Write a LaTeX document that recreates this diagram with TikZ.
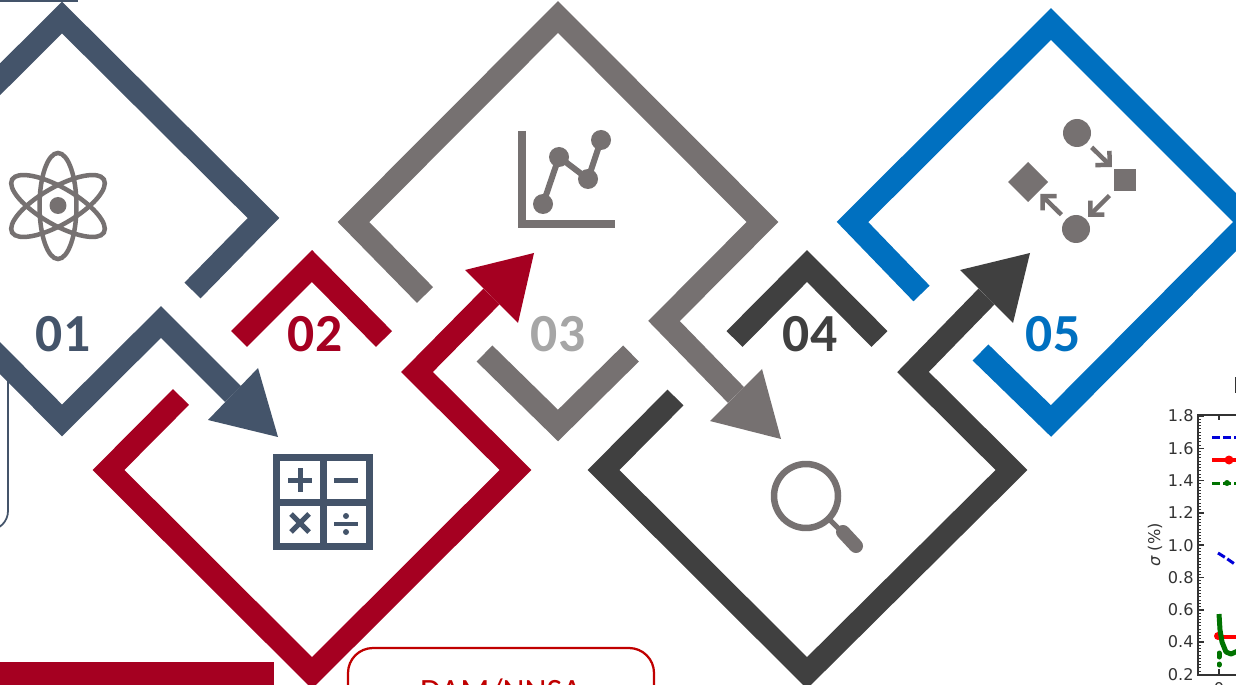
\documentclass[tikz,border=0pt]{standalone}
\usepackage{fontspec}
\setmainfont{Carlito}
\newfontfamily\plotfont{DejaVu Sans}
\usepackage{xcolor}
\usetikzlibrary{arrows.meta,shapes.geometric}
\definecolor{slateblue}{HTML}{44546A}
\definecolor{darkred}{HTML}{A50021}
\definecolor{warmgrey}{HTML}{767171}
\definecolor{coal}{HTML}{404040}
\definecolor{brightblue}{HTML}{0070C0}
\definecolor{lightnum}{HTML}{A6A6A6}
\definecolor{boxred}{HTML}{C00000}
\definecolor{axisgrey}{HTML}{333333}
\tikzset{
	band/.style={line width=0.45cm, line join=miter, line cap=butt},
	stepnum/.style={font=\fontsize{30.5}{31}\selectfont\bfseries},
	ticklabel/.style={font=\plotfont\fontsize{9.2}{10}\selectfont, text=axisgrey, inner sep=0pt},
	flownode/.style={fill=warmgrey, inner sep=0pt, outer sep=0pt},
	flowarrow/.style={warmgrey, line width=0.09cm, -{Straight Barb[length=0.2cm,width=0.4cm,line width=0.09cm]}, shorten <=0.13cm, shorten >=0.06cm},
	plotdash/.style={line width=0.06cm, dash pattern=on 0.16cm off 0.06cm}
}

\begin{document}
\begin{tikzpicture}[x=0.02cm, y=-0.02cm]
	\useasboundingbox (0,0) rectangle (1236,685);
	\clip (0,0) rectangle (1236,685);
	\fill[white] (0,0) rectangle (1236,685);

	% frames cut by the edge of the picture
	\draw[slateblue, line width=0.04cm] (0,1) -- (78,1);
	\draw[slateblue, line width=0.035cm, rounded corners=0.38cm] (-60,360) rectangle (8,530);
	\fill[darkred] (0,662) rectangle (274,700);
	\draw[boxred, line width=0.045cm, rounded corners=0.5cm] (348,648) rectangle (654,760);
	\node[anchor=base, text=boxred, font=\fontsize{19.4}{20}\selectfont] (damlabel) at (501,702) {DAM/NNSA};

	% step 01
	\draw[band, slateblue] (192.5,290.5) -- (263.5,218) -- (62,17.5) -- (-139,218) -- (62,420.5) -- (161,322) -- (233,394);
	\fill[slateblue] (278,437) -- (258,368) -- (208,420) -- cycle;
	\node[stepnum, text=slateblue] (num01) at (63,334) {01};

	% step 02
	\draw[band, darkred] (239,339) -- (312,266) -- (384,339);
	\draw[band, darkred] (181,397) -- (108.5,470) -- (312,673) -- (515.5,470) -- (417,372) -- (491.5,296.5);
	\fill[darkred] (534,253) -- (465,270) -- (518,323) -- cycle;
	\node[stepnum, text=darkred] (num02) at (315,334) {02};

	% step 03
	\draw[band, warmgrey] (425,295) -- (353.5,222) -- (558,17) -- (762.5,222) -- (664,321) -- (736,395);
	\fill[warmgrey] (781,439) -- (762,369) -- (710,421) -- cycle;
	\draw[band, warmgrey] (484.5,353.5) -- (558,425.5) -- (631,353.5);
	\node[stepnum, text=lightnum] (num03) at (558,334) {03};

	% step 04
	\draw[band, coal] (734.5,339) -- (807,266) -- (879.5,339);
	\draw[band, coal] (675.5,397.5) -- (603.5,470) -- (807,673) -- (1011.5,470) -- (913,372) -- (986.5,296.5);
	\fill[coal] (1030,253) -- (960,270) -- (1013,323) -- cycle;
	\node[stepnum, text=coal] (num04) at (810,334) {04};

	% step 05
	\draw[band, brightblue] (921.5,293.5) -- (852.5,222) -- (1051,24) -- (1249,222) -- (1051,421) -- (980.5,352.5);
	\node[stepnum, text=brightblue] (num05) at (1053,334) {05};

	% atom
	\foreach \a in {0,60,120} {
		\draw[warmgrey, line width=0.09cm, rotate around={\a:(58,206)}] (58,206) ellipse [x radius=0.37cm, y radius=1.06cm];
	}
	\fill[warmgrey] (58,205.5) circle [radius=0.17cm];

	% calculator
	\draw[slateblue, line width=0.15cm] (276.5,457.5) rectangle (369.5,546.5);
	\draw[slateblue, line width=0.14cm] (323,457) -- (323,547);
	\draw[slateblue, line width=0.14cm] (276,502) -- (370,502);
	\draw[slateblue, line width=0.1cm] (288,480) -- (312,480);
	\draw[slateblue, line width=0.1cm] (300,468) -- (300,492);
	\draw[slateblue, line width=0.1cm] (334,480) -- (358,480);
	\draw[slateblue, line width=0.1cm] (291,514) -- (309,532);
	\draw[slateblue, line width=0.1cm] (309,514) -- (291,532);
	\draw[slateblue, line width=0.08cm] (334,524) -- (358,524);
	\fill[slateblue] (346,516) circle [radius=0.06cm];
	\fill[slateblue] (346,532) circle [radius=0.06cm];

	% line chart icon
	\draw[warmgrey, line width=0.16cm, line join=miter] (522,131) -- (522,224) -- (615,224);
	\draw[warmgrey, line width=0.12cm] (543,204) -- (559,157) -- (588,179) -- (601,140);
	\foreach \x/\y in {543/204, 559/157, 588/179, 601/140} {
		\fill[warmgrey] (\x,\y) circle [radius=0.2cm];
	}

	% flow icon
	\node[flownode, circle, minimum size=0.56cm] (flowtop) at (1077,133) {};
	\node[flownode, rectangle, minimum size=0.44cm] (flowright) at (1125,180) {};
	\node[flownode, circle, minimum size=0.56cm] (flowbottom) at (1076,229) {};
	\node[flownode, diamond, minimum size=0.8cm] (flowleft) at (1028,182) {};
	\draw[flowarrow] (flowtop) -- (flowright);
	\draw[flowarrow] (flowright) -- (flowbottom);
	\draw[flowarrow] (flowbottom) -- (flowleft);

	% magnifier
	\draw[warmgrey, line width=0.13cm] (806,496) circle [radius=0.64cm];
	\draw[warmgrey, line width=0.1cm] (829,519) -- (842,532);
	\draw[warmgrey, line width=0.28cm, line cap=round] (843,532) -- (856,546);

	% plot
	\draw[axisgrey, line width=0.03cm] (1240,415) -- (1198,415) -- (1198,675) -- (1240,675);
	\foreach \v [count=\i from 0] in {1.8,1.6,1.4,1.2,1.0,0.8,0.6,0.4,0.2} {
		\node[ticklabel, anchor=east] (tick\i) at (1194,{416+32.3*\i}) {\v};
		\draw[axisgrey, line width=0.03cm] (1198,{416+32.3*\i}) -- (1204,{416+32.3*\i});
	}
	\foreach \i in {0,...,80} {
		\draw[axisgrey, line width=0.02cm] (1198,{416+3.23*\i}) -- (1201,{416+3.23*\i});
	}
	\draw[axisgrey, line width=0.03cm] (1219,415) -- (1219,420);
	\draw[axisgrey, line width=0.03cm] (1219,675) -- (1219,669);
	\node[ticklabel] (xzero) at (1219,689) {0};
	\node[ticklabel, rotate=90] (ylabel) at (1155,545) {{\itshape σ} (\%)};
	\draw[axisgrey, line width=0.04cm] (1235.5,377) -- (1235.5,393);
	\draw[blue!85!black, plotdash] (1212,437) -- (1240,437);
	\draw[red, line width=0.07cm] (1212,460) -- (1240,460);
	\fill[red] (1229,460) circle [radius=0.09cm];
	\draw[green!45!black, plotdash] (1212,483) -- (1240,483);
	\fill[green!45!black] (1227,483) circle [radius=0.06cm];
	\draw[blue!85!black, plotdash] (1218,553) -- (1226,558) -- (1236,565);
	\draw[red, line width=0.09cm] (1217,637) -- (1240,637);
	\fill[red] (1218,636) circle [radius=0.08cm];
	\draw[green!45!black, line width=0.1cm, line join=round] (1219,614) -- (1220,630) -- (1222,642) -- (1226,652) -- (1231,654) -- (1240,650);
	\draw[green!45!black, line width=0.1cm, line cap=round] (1219,653) -- (1219,657);
	\draw[green!45!black, line width=0.1cm, line cap=round] (1219,664) -- (1219,665);
\end{tikzpicture}
\end{document}
